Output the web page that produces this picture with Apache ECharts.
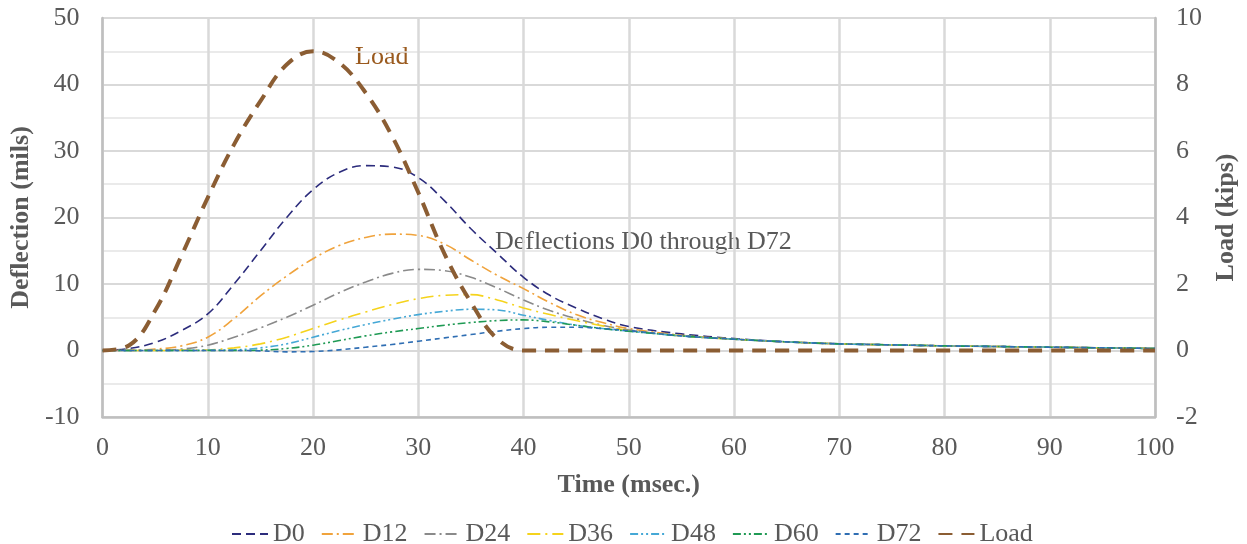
<!DOCTYPE html>
<html>
<head>
<meta charset="utf-8">
<script src="https://cdn.jsdelivr.net/npm/echarts@6/dist/echarts.min.js"></script>
<style>
  html, body { margin: 0; padding: 0; background: #ffffff; }
  #chart { width: 1247px; height: 544px; }
</style>
</head>
<body>
<div id="chart"></div>
<script>
// Time samples (msec.)
const times = [0, 2.5, 5, 7.5, 10, 12.5, 15, 17.5, 20, 22.5, 25, 27.5, 30, 32.5, 35, 37.5, 40, 42.5, 45, 47.5, 50, 55, 60, 65, 70, 75, 80, 85, 90, 95, 100];

// Sensor deflections (mils)
const D0  = [0, 0.3, 1.2, 3.0, 5.5, 10.0, 15.0, 20.0, 24.2, 26.8, 27.8, 27.6, 26.0, 22.5, 18.3, 14.6, 11.0, 8.3, 6.4, 4.8, 3.6, 2.5, 1.8, 1.3, 1.0, 0.85, 0.7, 0.6, 0.5, 0.4, 0.3];
const D12 = [0, 0.05, 0.2, 0.7, 2.0, 4.8, 8.2, 11.2, 13.8, 15.8, 17.0, 17.5, 17.3, 16.0, 13.6, 11.3, 9.3, 7.2, 5.4, 4.2, 3.3, 2.3, 1.7, 1.3, 1.0, 0.85, 0.7, 0.6, 0.5, 0.4, 0.3];
const D24 = [0, 0, 0.05, 0.2, 0.8, 2.0, 3.4, 5.0, 6.8, 8.7, 10.3, 11.6, 12.2, 12.0, 11.0, 9.4, 7.6, 6.0, 4.8, 3.8, 3.1, 2.2, 1.7, 1.3, 1.0, 0.85, 0.7, 0.6, 0.5, 0.4, 0.3];
const D36 = [0, 0, 0, 0.05, 0.1, 0.4, 1.0, 2.0, 3.3, 4.6, 5.8, 6.9, 7.8, 8.3, 8.4, 7.6, 6.4, 5.4, 4.5, 3.7, 3.0, 2.2, 1.7, 1.3, 1.0, 0.85, 0.7, 0.6, 0.5, 0.4, 0.3];
const D48 = [0, 0, 0, 0, 0.05, 0.1, 0.4, 1.0, 2.0, 3.0, 3.9, 4.7, 5.4, 5.9, 6.2, 6.1, 5.3, 4.5, 3.8, 3.3, 2.9, 2.2, 1.7, 1.3, 1.0, 0.85, 0.7, 0.6, 0.5, 0.4, 0.3];
const D60 = [0, 0, 0, 0, 0, 0, 0.05, 0.3, 0.8, 1.5, 2.2, 2.8, 3.3, 3.8, 4.2, 4.5, 4.6, 4.3, 3.8, 3.3, 2.9, 2.2, 1.7, 1.3, 1.0, 0.85, 0.7, 0.6, 0.5, 0.4, 0.3];
const D72 = [0, 0, 0, 0, 0, 0, -0.05, -0.2, -0.15, 0.1, 0.5, 0.9, 1.4, 1.9, 2.4, 2.9, 3.3, 3.5, 3.5, 3.3, 3.0, 2.2, 1.7, 1.3, 1.0, 0.85, 0.7, 0.6, 0.5, 0.4, 0.3];

// Applied load pulse (kips)
const Load = [0, 0.15, 1.2, 2.85, 4.6, 6.2, 7.5, 8.6, 9.0, 8.65, 7.75, 6.45, 4.75, 2.9, 1.45, 0.35, 0, 0, 0, 0, 0, 0, 0, 0, 0, 0, 0, 0, 0, 0, 0];

// Axis ticks: [min, max, interval]
const xTicks = [0, 100, 10];
const yLeftTicks = [-10, 50, 10];
const yRightTicks = [-2, 10, 2];

const serif = 'Liberation Serif';
const grayText = '#595959';
const gridGray = '#d9d9d9';
const axisGray = '#bfbfbf';

const pairs = (vals) => times.map((t, i) => [t, vals[i]]);

const deflectionSeries = [
  { name: 'D0',  data: D0,  color: '#2c2c7c', dash: [9, 5] },
  { name: 'D12', data: D12, color: '#f0a33c', dash: [11, 4, 2, 4] },
  { name: 'D24', data: D24, color: '#8a8a8a', dash: [11, 4, 2, 4] },
  { name: 'D36', data: D36, color: '#f5d31c', dash: [13, 5, 2, 5] },
  { name: 'D48', data: D48, color: '#45a8d6', dash: [8, 3, 2, 3, 2, 3] },
  { name: 'D60', data: D60, color: '#1f9a54', dash: [8, 3, 2, 3, 2, 3] },
  { name: 'D72', data: D72, color: '#2f6eb3', dash: [5, 4] }
];

const series = deflectionSeries.map(s => ({
  name: s.name,
  type: 'line',
  yAxisIndex: 0,
  data: pairs(s.data),
  smooth: 0.4,
  symbol: 'none',
  color: s.color,
  lineStyle: { color: s.color, width: 1.6, type: s.dash },
  z: 3
}));

series.push({
  name: 'Load',
  type: 'line',
  yAxisIndex: 1,
  data: pairs(Load),
  smooth: 0.4,
  symbol: 'none',
  color: '#8b5d33',
  lineStyle: { color: '#8b5d33', width: 4, type: [14, 9] },
  z: 4
});

const chart = echarts.init(document.getElementById('chart'), null, { renderer: 'canvas' });

chart.setOption({
  backgroundColor: '#ffffff',
  animation: false,
  textStyle: { fontFamily: serif },
  grid: { left: 100, right: 90, top: 18, bottom: 127, show: true, borderColor: gridGray, borderWidth: 1.5 },
  legend: {
    top: 516,
    left: 226,
    itemWidth: 36,
    itemHeight: 14,
    itemGap: 16,
    itemStyle: { opacity: 0 },
    textStyle: { fontFamily: serif, fontSize: 26, color: grayText },
    data: ['D0', 'D12', 'D24', 'D36', 'D48', 'D60', 'D72', 'Load']
  },
  xAxis: {
    type: 'value',
    min: xTicks[0], max: xTicks[1], interval: xTicks[2],
    name: 'Time (msec.)',
    nameLocation: 'middle',
    nameGap: 55,
    nameTextStyle: { fontFamily: serif, fontSize: 26, fontWeight: 'bold', color: grayText },
    axisLine: { show: true, onZero: false, lineStyle: { color: axisGray, width: 2.5 } },
    axisTick: { show: false },
    axisLabel: { fontFamily: serif, fontSize: 26, color: grayText, margin: 18 },
    splitLine: { show: true, lineStyle: { color: gridGray, width: 2.5 } }
  },
  yAxis: [
    {
      type: 'value',
      min: yLeftTicks[0], max: yLeftTicks[1], interval: yLeftTicks[2],
      name: 'Deflection (mils)',
      nameLocation: 'middle',
      nameGap: 62,
      nameRotate: 90,
      nameTextStyle: { fontFamily: serif, fontSize: 26, fontWeight: 'bold', color: grayText },
      axisLine: { show: true, onZero: false, lineStyle: { color: axisGray, width: 2.5 } },
      axisTick: { show: false },
      axisLabel: { fontFamily: serif, fontSize: 26, color: grayText, margin: 23 },
      splitLine: { show: true, lineStyle: { color: gridGray, width: 2 } },
      minorTick: { show: false, splitNumber: 2 },
      minorSplitLine: { show: true, lineStyle: { color: '#e3e3e3', width: 1.5 } }
    },
    {
      type: 'value',
      position: 'right',
      min: yRightTicks[0], max: yRightTicks[1], interval: yRightTicks[2],
      name: 'Load (kips)',
      nameLocation: 'middle',
      nameGap: 58,
      nameRotate: 90,
      nameTextStyle: { fontFamily: serif, fontSize: 26, fontWeight: 'bold', color: grayText },
      axisLine: { show: true, onZero: false, lineStyle: { color: axisGray, width: 2.5 } },
      axisTick: { show: false },
      axisLabel: { fontFamily: serif, fontSize: 26, color: grayText, margin: 21 },
      splitLine: { show: false }
    }
  ],
  graphic: [
    {
      type: 'text',
      left: 355, top: 44,
      style: { text: 'Load', fontFamily: serif, fontSize: 26, fill: '#9a5a1e' }
    },
    {
      type: 'text',
      left: 495, top: 229,
      style: { text: 'Deflections D0 through D72', fontFamily: serif, fontSize: 26, fill: grayText }
    }
  ],
  series: series
});
</script>
</body>
</html>
